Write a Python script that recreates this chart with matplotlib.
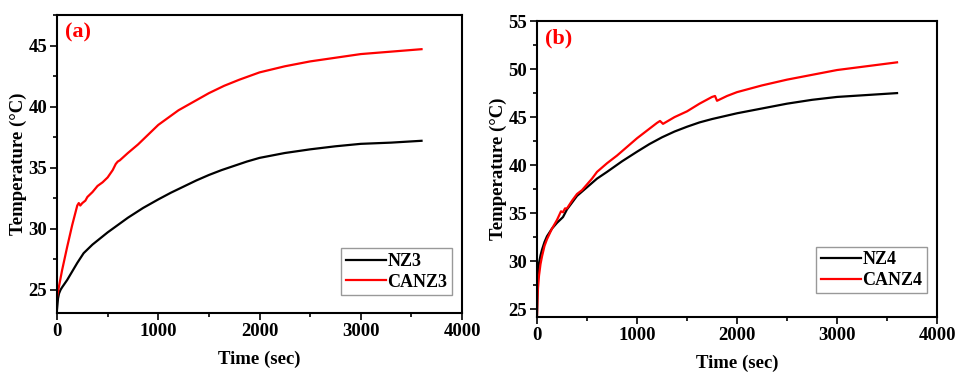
import numpy as np
import matplotlib.pyplot as plt
from matplotlib.ticker import MultipleLocator

# --- datos ---
t_nz3 = [0, 10, 20, 35, 50, 75, 100, 150, 200, 263, 350, 425, 500, 600, 700, 850, 1000, 1125, 1250, 1375, 1500, 1625,
         1750, 1875, 2000, 2125, 2250, 2375, 2500, 2750, 3000, 3300, 3600]
y_nz3 = [23.4, 24.3, 24.7, 25.0, 25.2, 25.5, 25.8, 26.5, 27.2, 28.0, 28.7, 29.2, 29.7, 30.3, 30.9, 31.7, 32.4, 32.95, 33.45,
         33.95, 34.4, 34.8, 35.15, 35.5, 35.8, 36.0, 36.2, 36.35, 36.5, 36.75, 36.95, 37.05, 37.2]

t_canz3 = [0, 20, 50, 100, 150, 200, 215, 230, 250, 280, 300, 350, 400, 450, 500, 550, 580, 600, 620, 700, 800, 900, 1000,
           1100, 1200, 1350, 1500, 1650, 1800, 2000, 2250, 2500, 2750, 3000, 3300, 3600]
y_canz3 = [24.4, 25.3, 26.6, 28.5, 30.3, 31.9, 32.1, 31.9, 32.1, 32.3, 32.6, 33.0, 33.5, 33.8, 34.2, 34.8, 35.3, 35.5, 35.6,
           36.2, 36.9, 37.7, 38.5, 39.1, 39.7, 40.4, 41.1, 41.7, 42.2, 42.8, 43.3, 43.7, 44.0, 44.3, 44.5, 44.7]

t_nz4 = [0, 5, 10, 20, 35, 50, 75, 100, 150, 200, 260, 300, 400, 500, 600, 700, 850, 1000, 1125, 1250, 1375, 1500, 1625,
         1750, 1875, 2000, 2250, 2500, 2750, 3000, 3300, 3600]
y_nz4 = [24.5, 27.5, 28.8, 29.8, 30.6, 31.2, 32.0, 32.6, 33.4, 34.0, 34.6, 35.4, 36.8, 37.7, 38.6, 39.3, 40.4, 41.4, 42.2,
         42.9, 43.5, 44.0, 44.45, 44.8, 45.1, 45.4, 45.9, 46.4, 46.8, 47.1, 47.3, 47.5]

t_canz4 = [0, 5, 10, 20, 35, 50, 75, 100, 150, 200, 240, 260, 280, 300, 350, 400, 450, 500, 550, 600, 700, 800, 900, 1000,
           1100, 1200, 1230, 1260, 1375, 1500, 1625, 1750, 1780, 1800, 1900, 2000, 2250, 2500, 2750, 3000, 3300, 3600]
y_canz4 = [24.2, 26.0, 27.2, 28.5, 29.7, 30.5, 31.6, 32.3, 33.4, 34.3, 35.2, 35.1, 35.5, 35.5, 36.3, 37.0, 37.4, 38.0, 38.6,
           39.3, 40.2, 41.0, 41.9, 42.8, 43.6, 44.4, 44.6, 44.3, 45.0, 45.6, 46.4, 47.1, 47.2, 46.7, 47.2, 47.6, 48.3,
           48.9, 49.4, 49.9, 50.3, 50.7]

etiquetas = ['(a)', '(b)']

plt.rcParams['font.family'] = ['Liberation Serif', 'DejaVu Serif']
plt.rcParams['font.weight'] = 'bold'
plt.rcParams['axes.labelweight'] = 'bold'

fig = plt.figure(figsize=(9.55, 3.72), dpi=100)
ax1 = fig.add_axes([0.0597, 0.1586, 0.4241, 0.8011])
ax2 = fig.add_axes([0.5623, 0.1478, 0.4189, 0.7957])

def estilo(ax, ymin, ymax, ymajor):
    ax.set_xlim(0, 4000)
    ax.set_ylim(ymin, ymax)
    ax.xaxis.set_major_locator(MultipleLocator(1000))
    ax.xaxis.set_minor_locator(MultipleLocator(500))
    ax.yaxis.set_major_locator(MultipleLocator(ymajor))
    ax.yaxis.set_minor_locator(MultipleLocator(ymajor / 2))
    ax.tick_params(which='both', direction='out', labelsize=13.5, width=1.2, pad=2)
    ax.tick_params(which='major', length=5)
    ax.tick_params(which='minor', length=3)
    for s in ax.spines.values():
        s.set_linewidth(1.5)
    ax.set_xlabel('Time (sec)', fontsize=13.5, fontweight='bold', labelpad=8)
    ax.set_ylabel('Temperature (°C)', fontsize=13.5, fontweight='bold', labelpad=1)
    for lab in ax.get_xticklabels() + ax.get_yticklabels():
        lab.set_fontweight('bold')

ax1.plot(t_nz3, y_nz3, color='black', lw=1.6, label='NZ3')
ax1.plot(t_canz3, y_canz3, color='red', lw=1.6, label='CANZ3')
estilo(ax1, 23.1, 47.5, 5)
ax1.text(0.02, 0.975, etiquetas[0], transform=ax1.transAxes, color='red',
         fontsize=16, fontweight='bold', va='top')
ax1.legend(loc='lower right', bbox_to_anchor=(0.975, 0.06), fontsize=13, frameon=True,
           fancybox=False, edgecolor='gray', handlelength=2.2, handletextpad=0.1,
           borderpad=0.25, labelspacing=0.2, borderaxespad=0)

ax2.plot(t_nz4, y_nz4, color='black', lw=1.6, label='NZ4')
ax2.plot(t_canz4, y_canz4, color='red', lw=1.6, label='CANZ4')
estilo(ax2, 24.2, 55, 5)
ax2.text(0.02, 0.975, etiquetas[1], transform=ax2.transAxes, color='red',
         fontsize=16, fontweight='bold', va='top')
ax2.legend(loc='lower right', bbox_to_anchor=(0.975, 0.08), fontsize=13, frameon=True,
           fancybox=False, edgecolor='gray', handlelength=2.2, handletextpad=0.1,
           borderpad=0.25, labelspacing=0.2, borderaxespad=0)

fig.savefig('out.png', dpi=100)
